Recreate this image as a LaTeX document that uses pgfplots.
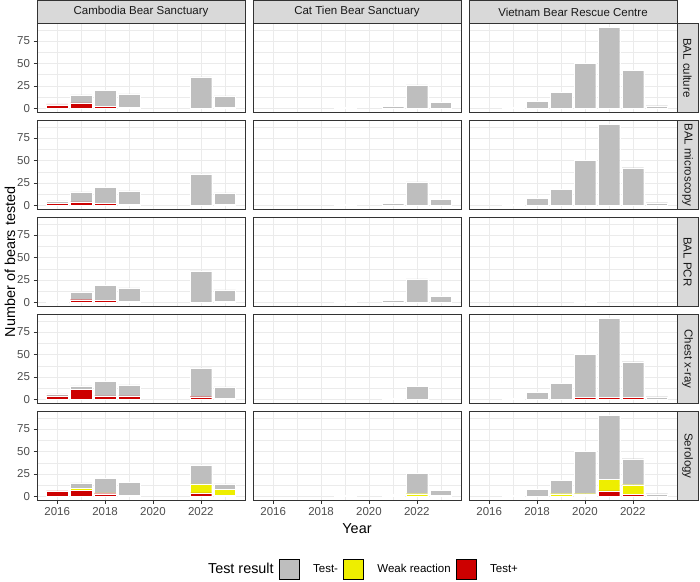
\documentclass[border=0pt]{standalone}
\usepackage{pgfplots}
\pgfplotsset{compat=1.18}
\usepackage{pgfplotstable}
\usepgfplotslibrary{groupplots}
\usepackage{fontspec}
\setmainfont{Liberation Sans}

\definecolor{tneg}{HTML}{BEBEBE}
\definecolor{tweak}{HTML}{EEEE00}
\definecolor{tpos}{HTML}{CD0000}
\definecolor{gridc}{HTML}{EBEBEB}
\definecolor{bord}{HTML}{333333}
\definecolor{stripf}{HTML}{D9D9D9}
\definecolor{tickc}{HTML}{4D4D4D}

\newcommand{\fsm}{\fontsize{11.5}{13}\selectfont}
\newcommand{\fbg}{\fontsize{14.4}{16}\selectfont}

% Cambodia
\pgfplotstableread{
year p w n
2016 4 0 1
2017 6 0 9
2018 2 0 18
2019 1 0 15
2022 0 0 35
2023 1 0 13
}\cA
\pgfplotstableread{
year p w n
2016 2 0 3
2017 4 0 11
2018 2 0 18
2019 1 0 15
2022 0 0 35
2023 1 0 13
}\cB
\pgfplotstableread{
year p w n
2016 0 0 1
2017 3 0 8
2018 2 0 17
2019 1 0 15
2022 0 0 35
2023 1 0 13
}\cC
\pgfplotstableread{
year p w n
2016 4 0 2
2017 11 0 4
2018 4 0 16
2019 4 0 12
2022 3 0 32
2023 1 0 13
}\cD
\pgfplotstableread{
year p w n
2016 6 0 0
2017 7 2 6
2018 3 1 16
2019 0 1 15
2022 4 10 21
2023 1 7 6
}\cE
% Cat Tien
\pgfplotstableread{
year p w n
2019 0 0 1
2021 0 0 2
2022 0 0 26
2023 0 0 7
}\tA
\pgfplotstableread{
year p w n
2021 1 0 0
2022 0 0 15
}\tD
\pgfplotstableread{
year p w n
2019 0 0 1
2021 0 1 1
2022 0 3 23
2023 0 1 6
}\tE
% Vietnam
\pgfplotstableread{
year p w n
2017 1 0 0
2018 0 0 8
2019 0 0 18
2020 0 0 50
2021 0 0 90
2022 0 0 42
2023 0 0 3
}\vA
\pgfplotstableread{
year p w n
2017 0 0 1
2018 0 0 8
2019 0 0 18
2020 0 0 50
2021 0 0 90
2022 0 0 42
2023 0 0 3
}\vB
\pgfplotstableread{
year p w n
2020 0 0 1
}\vC
\pgfplotstableread{
year p w n
2017 1 0 0
2018 0 0 8
2019 0 0 18
2020 2 0 48
2021 2 0 88
2022 2 0 40
2023 0 0 3
}\vD
\pgfplotstableread{
year p w n
2017 0 0 1
2018 0 0 8
2019 0 3 15
2020 1 2 47
2021 6 13 71
2022 2 11 29
2023 0 0 3
}\vE

\newcommand{\bars}[1]{%
  \addplot[fill=tpos, draw=white, line width=0.2pt] table[x=year,y=p]{#1};
  \addplot[fill=tweak, draw=white, line width=0.2pt] table[x=year,y=w]{#1};
  \addplot[fill=tneg, draw=white, line width=0.2pt] table[x=year,y=n]{#1};
}

\pgfplotsset{
  panel/.style={
    width=208pt, height=89pt, scale only axis,
    xmin=2015.155, xmax=2023.845, ymin=-4.5, ymax=94.5,
    xtick={2016,2018,2020,2022}, ytick={0,25,50,75},
    minor xtick={2015,2017,2019,2021,2023},
    minor ytick={12.5,37.5,62.5,87.5},
    grid=both,
    major grid style={color=gridc, line width=0.6pt},
    minor grid style={color=gridc, line width=0.3pt},
    axis line style={draw=bord, line width=0.8pt},
    tick align=outside, tick pos=left,
    major tick length=3.5pt, minor tick length=0pt,
    tick style={draw=bord, line width=0.6pt},
    ticklabel style={font=\fsm, text=tickc},
    /pgf/number format/assume math mode=true,
    xticklabel style={/pgf/number format/1000 sep={}},
    ybar stacked, bar width=0.9,
  },
  topstrip/.style={extra description/.append code={
    \draw[fill=stripf, draw=bord, line width=0.8pt] (axis description cs:0,1) rectangle ([yshift=23pt]axis description cs:1,1);
    \node[font=\fsm, text=black!90] at ([yshift=11.5pt]axis description cs:0.5,1) {#1};}},
  rightstrip/.style={extra description/.append code={
    \draw[fill=stripf, draw=bord, line width=0.8pt] (axis description cs:1,0) rectangle ([xshift=21pt]axis description cs:1,1);
    \node[font=\fsm, text=black!90, rotate=-90] at ([xshift=10.5pt]axis description cs:1,0.5) {#1};}},
  nox/.style={xmajorticks=false},
  noy/.style={ymajorticks=false},
  sq/.style={legend image code/.code={\fill[##1] (0pt,-10pt) rectangle (20pt,10pt);}},
}

\begin{document}
\begin{tikzpicture}
\begin{groupplot}[
  group style={group size=3 by 5, horizontal sep=8pt, vertical sep=8pt,
    xticklabels at=edge bottom, yticklabels at=edge left},
  panel,
]
% row 1
\nextgroupplot[nox, topstrip={Cambodia Bear Sanctuary},
  extra description/.append code={\path ([xshift=-37pt,yshift=23pt]axis description cs:0,1) coordinate (tl);}]
\bars{\cA}
\nextgroupplot[nox, noy, topstrip={Cat Tien Bear Sanctuary}]
\bars{\tA}
\nextgroupplot[nox, noy, topstrip={Vietnam Bear Rescue Centre}, rightstrip={BAL culture}]
\bars{\vA}
% row 2
\nextgroupplot[nox]
\bars{\cB}
\nextgroupplot[nox, noy]
\bars{\tA}
\nextgroupplot[nox, noy, rightstrip={BAL microscopy}]
\bars{\vB}
% row 3
\nextgroupplot[nox,
  extra description/.append code={\node[rotate=90, font=\fbg] at ([xshift=-27pt]axis description cs:0,0.5) {Number of bears tested};}]
\bars{\cC}
\nextgroupplot[nox, noy]
\bars{\tA}
\nextgroupplot[nox, noy, rightstrip={BAL PCR}]
\bars{\vC}
% row 4
\nextgroupplot[nox]
\bars{\cD}
\nextgroupplot[nox, noy]
\bars{\tD}
\nextgroupplot[nox, noy, rightstrip={Chest x-ray}]
\bars{\vD}
% row 5
\nextgroupplot[]
\bars{\cE}
\nextgroupplot[noy,
  extra description/.append code={\node[font=\fbg] at ([yshift=-28pt]axis description cs:0.5,0) {Year};},
  legend style={at={(axis description cs:0.5,-0.775)}, anchor=center, draw=none, fill=none,
    legend columns=4, font=\fsm,
    /tikz/every odd column/.append style={column sep=12pt},
    /tikz/every even column/.append style={column sep=3pt}},
]
\addlegendimage{empty legend}
\addlegendentry{\fbg Test result}
\addlegendimage{sq, fill=tneg}
\addlegendentry{Test-}
\addlegendimage{sq, fill=tweak}
\addlegendentry{Weak reaction}
\addlegendimage{sq, fill=tpos}
\addlegendentry{Test+}
\bars{\tE}
\nextgroupplot[noy, rightstrip={Serology},
  extra description/.append code={\path ([xshift=23pt,yshift=-80pt]axis description cs:1,0) coordinate (br);}]
\bars{\vE}
\end{groupplot}
\end{tikzpicture}
\end{document}
